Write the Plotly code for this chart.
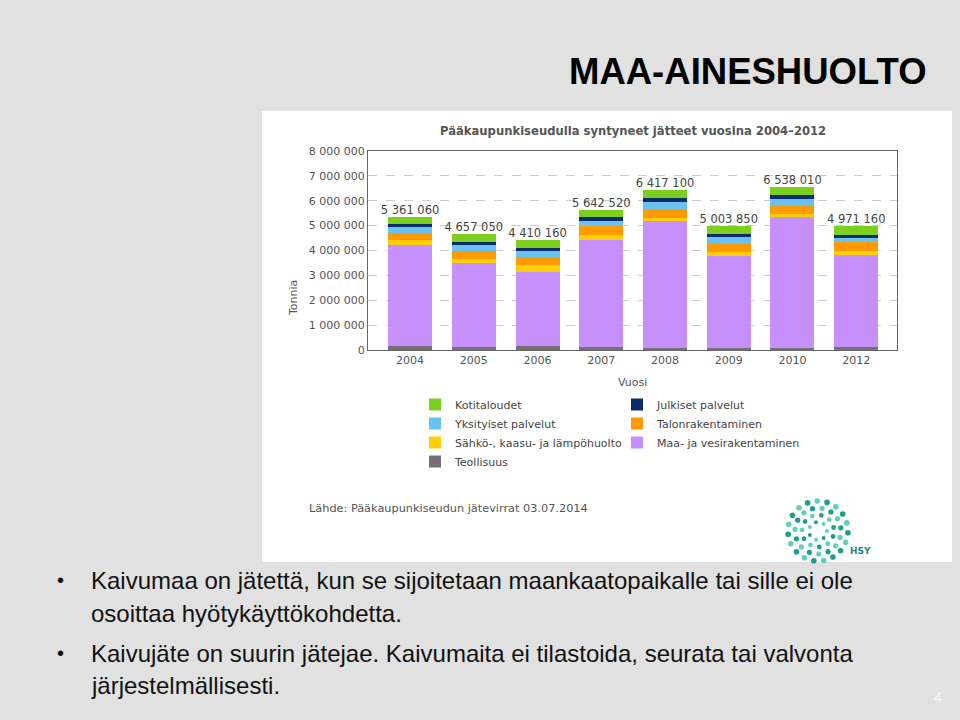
import math
import plotly.graph_objects as go

# ---------------- data (tonnes) ----------------
years = ["2004", "2005", "2006", "2007", "2008", "2009", "2010", "2012"]
totals = [5361060, 4657050, 4410160, 5642520, 6417100, 5003850, 6538010, 4971160]

teollisuus = [160000, 130000, 160000, 130000, 90000, 90000, 90000, 110000]
maa_vesirakentaminen = [4051060, 3357050, 2990160, 4282520, 5087100, 3683850, 5248010, 3711160]
sahko_kaasu_lampo = [210000, 170000, 250000, 210000, 130000, 150000, 130000, 160000]
talonrakentaminen = [280000, 320000, 320000, 350000, 360000, 350000, 360000, 360000]
yksityiset_palvelut = [230000, 230000, 270000, 230000, 280000, 280000, 230000, 170000]
julkiset_palvelut = [120000, 130000, 130000, 150000, 160000, 120000, 170000, 110000]
kotitaloudet = [310000, 320000, 290000, 290000, 310000, 330000, 310000, 350000]

series_names = ["Teollisuus", "Maa- ja vesirakentaminen", "Sähkö-, kaasu- ja lämpöhuolto",
                "Talonrakentaminen", "Yksityiset palvelut", "Julkiset palvelut", "Kotitaloudet"]
series_values = [teollisuus, maa_vesirakentaminen, sahko_kaasu_lampo, talonrakentaminen,
                 yksityiset_palvelut, julkiset_palvelut, kotitaloudet]
series_colors = ["#776e76", "#c690fc", "#ffcd05", "#ff9a00", "#69c3f2", "#0b2c6b", "#7dcf1d"]

chart_title = "Pääkaupunkiseudulla syntyneet jätteet vuosina 2004–2012"
slide_title = "MAA-AINESHUOLTO"
source_text = "Lähde: Pääkaupunkiseudun jätevirrat 03.07.2014"
bullet_lines = [
    ("•", "Kaivumaa on jätettä, kun se sijoitetaan maankaatopaikalle tai sille ei ole"),
    ("", "osoittaa hyötykäyttökohdetta."),
    ("•", "Kaivujäte on suurin jätejae. Kaivumaita ei tilastoida, seurata tai valvonta"),
    ("", "järjestelmällisesti."),
]

# ---------------- layout helpers ----------------
W, H = 960, 720
L, R, T, B = 368, 897, 151, 350


def px(x):
    return (x - L) / (R - L)


def py(y):
    return (B - y) / (B - T)


CF = "DejaVu Sans, Verdana, sans-serif"
SF = "Liberation Sans, Arial, sans-serif"

fig = go.Figure()
for name, vals, col in zip(series_names, series_values, series_colors):
    fig.add_trace(go.Bar(x=years, y=vals, name=name, marker=dict(color=col, line=dict(width=0)),
                         hoverinfo="x+y+name"))

fig.add_trace(go.Scatter(
    x=years, y=totals, mode="text",
    text=[f"{v:,}".replace(",", " ") for v in totals],
    textposition="top center", textfont=dict(family=CF, size=11.5, color="#444444"),
    showlegend=False, hoverinfo="skip"))

shapes = [
    dict(type="rect", xref="paper", yref="paper", x0=px(262), x1=px(952), y0=py(562), y1=py(111),
         fillcolor="white", line=dict(width=0), layer="below"),
]

# HSY logo (decoration): rings of teal dots
cx, cy = 818, 531
rings = [(9, 7, 2.0), (16, 11, 2.4), (23, 15, 2.6), (30, 19, 2.8)]
for ri, (rad, n, s) in enumerate(rings):
    for k in range(n):
        a = 2 * math.pi * k / n + ri * 0.35
        x = cx + rad * math.cos(a)
        y = cy + rad * math.sin(a)
        colr = "#1e9d8c" if (k + ri) % 2 else "#5fd0c0"
        shapes.append(dict(type="circle", xref="paper", yref="paper",
                           x0=px(x - s), x1=px(x + s), y0=py(y + s), y1=py(y - s),
                           fillcolor=colr, line=dict(width=0), layer="above"))

annotations = [
    dict(text=f"<b>{slide_title}</b>", x=px(929), y=py(72), xanchor="right", yanchor="middle",
         font=dict(family=SF, size=36.5, color="#000000")),
    dict(text=f"<b>{chart_title}</b>", x=px(633), y=py(131), xanchor="center", yanchor="middle",
         font=dict(family=CF, size=11.6, color="#555555")),
    dict(text="Tonnia", x=px(293), y=py(298), xanchor="center", yanchor="middle", textangle=-90,
         font=dict(family=CF, size=11, color="#555555")),
    dict(text="Vuosi", x=px(632), y=py(382), xanchor="center", yanchor="middle",
         font=dict(family=CF, size=11, color="#555555")),
    dict(text=source_text, x=px(307), y=py(508), xanchor="left", yanchor="middle",
         font=dict(family=CF, size=11.3, color="#555555")),
    dict(text="<b>HSY</b>", x=px(860), y=py(551), xanchor="center", yanchor="middle",
         font=dict(family=CF, size=9, color="#1e8a7c")),
    dict(text="4", x=px(938), y=py(697), xanchor="center", yanchor="middle",
         font=dict(family=SF, size=14, color="#f7f7f7")),
]
line_y = [580, 613, 653, 685]
for (bul, txt), yy in zip(bullet_lines, line_y):
    if bul:
        annotations.append(dict(text=bul, x=px(60), y=py(yy), xanchor="center", yanchor="middle",
                                font=dict(family=SF, size=20, color="#111111")))
    annotations.append(dict(text=txt, x=px(89), y=py(yy), xanchor="left", yanchor="middle",
                            font=dict(family=SF, size=24, color="#111111")))
for a in annotations:
    a.update(xref="paper", yref="paper", showarrow=False)

fig.update_layout(
    width=W, height=H,
    margin=dict(l=L, r=W - R, t=T, b=H - B, pad=0),
    paper_bgcolor="#e1e1e1", plot_bgcolor="white",
    separators=", ",
    barmode="stack", bargap=0.31,
    showlegend=True,
    legend=dict(orientation="h", x=px(415), xanchor="left", y=py(390), yanchor="top",
                entrywidth=157, traceorder="reversed", bgcolor="rgba(0,0,0,0)",
                font=dict(family=CF, size=11, color="#444444")),
    xaxis=dict(type="category", range=[-0.66, 7.64], showgrid=False, showline=True, mirror=True,
               linecolor="#666666", linewidth=1, ticks="",
               tickfont=dict(family=CF, size=11, color="#555555")),
    yaxis=dict(range=[0, 8000000], dtick=1000000, tickformat=",d", showgrid=True,
               gridcolor="#cccccc", griddash="dash", showline=True, mirror=True,
               linecolor="#666666", linewidth=1, ticks="", zeroline=False,
               tickfont=dict(family=CF, size=11, color="#555555")),
    shapes=shapes, annotations=annotations,
)

fig.write_html("out.html")
